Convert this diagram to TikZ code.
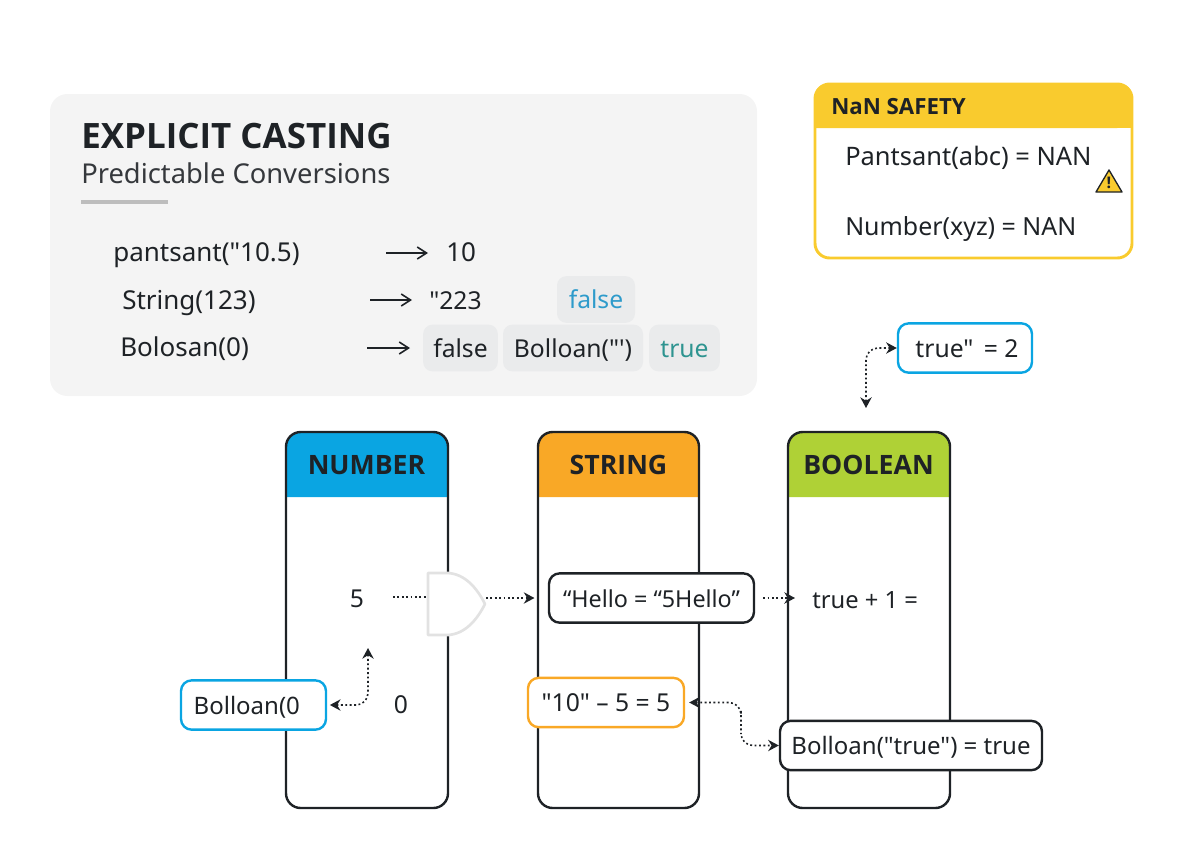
\documentclass[tikz,border=0pt]{standalone}
\usepackage{fontspec}
\newfontfamily\notofont{Noto Sans}
\newfontfamily\headfont{Open Sans}
\usetikzlibrary{positioning,arrows.meta,calc}
\definecolor{panelgrey}{HTML}{F4F4F4}
\definecolor{pillgrey}{HTML}{EAEBEC}
\definecolor{rulegrey}{HTML}{BDBDBD}
\definecolor{gategrey}{HTML}{E2E2E2}
\definecolor{inkdark}{HTML}{1E2226}
\definecolor{numblue}{HTML}{0AA5E2}
\definecolor{strorange}{HTML}{F9A826}
\definecolor{boolgreen}{HTML}{AFD136}
\definecolor{nanyellow}{HTML}{F9CB2E}
\definecolor{falseblue}{HTML}{2E9BCB}
\definecolor{trueteal}{HTML}{2E9490}
\tikzset{
  txt/.style={inner sep=0pt,text=inkdark,font=\notofont\fontsize{18.5}{22}\selectfont},
  rowtxt/.style={txt,anchor=base west,font=\notofont\fontsize{19.5}{22}\selectfont},
  pill/.style={txt,fill=pillgrey,rounded corners=7pt,minimum height=35pt,text height=14pt,text depth=0pt},
  tagbox/.style={txt,draw=inkdark,fill=white,line width=1.8pt,rounded corners=8pt,minimum height=37pt,text height=14pt,text depth=0pt},
  colbox/.style={draw=inkdark,line width=1.8pt,rounded corners=11pt,minimum width=121.5pt,minimum height=282pt,inner sep=0pt},
  colhead/.style={inner sep=0pt,text=inkdark,font=\headfont\fontsize{20}{24}\bfseries\selectfont},
  sipka/.style={-{Straight Barb[length=7pt,width=9pt]},line width=1.2pt,draw=inkdark},
  tecky/.style={dash pattern=on 1.4pt off 1.9pt,line width=1.2pt,draw=inkdark},
  tip/.style={{Stealth[length=8pt,width=8.5pt]}-{Stealth[length=8pt,width=8.5pt]},tecky,rounded corners=9pt},
  onetip/.style={-{Stealth[length=8pt,width=8.5pt]},tecky},
}
\begin{document}
\begin{tikzpicture}[x=0.75pt,y=-0.75pt]
  \useasboundingbox (0,0) rectangle (1184,864);
  % top left panel
  \fill[panelgrey,rounded corners=13pt] (50,94) rectangle (757,396);
  \node[inner sep=0pt,anchor=base west,text=inkdark,font=\headfont\fontsize{26.2}{30}\bfseries\selectfont] (title) at (81,148) {EXPLICIT CASTING};
  \node[inner sep=0pt,anchor=base west,text=inkdark!90,font=\notofont\fontsize{20.5}{24}\selectfont] (subtitle) at (81,183) {Predictable Conversions};
  \fill[rulegrey] (81,200) rectangle (168,204);
  \node[rowtxt] (rowa) at (113,261) {pantsant("10.5)};
  \node[rowtxt] (rowb) at (122,309) {String(123)};
  \node[rowtxt] (rowc) at (120,356) {Bolosan(0)};
  \node[rowtxt] (resa) at (446,261) {10};
  \node[rowtxt,font=\notofont\fontsize{18.5}{22}\selectfont] (resb) at (429,309) {"223};
  \node[pill,text=falseblue,minimum width=58.5pt] (pfalse) at (596,299.5) {false};
  \node[pill,minimum width=56pt] (pfalseb) at (460.5,348) {false};
  \node[pill,minimum width=105pt] (pbool) at (573,348) {Bolloan("\textquotesingle)};
  \node[pill,text=trueteal,minimum width=53pt] (ptrue) at (684.5,348) {true};
  \coordinate (aa) at (386,253); \coordinate (ab) at (428,253);
  \coordinate (ba) at (370,300); \coordinate (bb) at (412,300);
  \coordinate (ca) at (367,348); \coordinate (cb) at (410,348);
  \draw[sipka] (aa)--(ab);
  \draw[sipka] (ba)--(bb);
  \draw[sipka] (ca)--(cb);
  % NaN box
  \fill[nanyellow,rounded corners=11pt] (815,128) -- (815,84) -- (1132,84) -- (1132,128) [sharp corners] -- cycle;
  \fill[nanyellow] (815,115) rectangle (1132,128);
  \draw[nanyellow,line width=2.2pt,rounded corners=11pt] (815,84) rectangle (1132,258);
  \node[inner sep=0pt,anchor=base west,text=inkdark,font=\headfont\fontsize{16.7}{20}\bfseries\selectfont] (nantitle) at (831,114) {NaN SAFETY};
  \node[rowtxt,font=\notofont\fontsize{19.1}{22}\selectfont] (nana) at (845,165) {Pantsant(abc) = NAN};
  \node[rowtxt,font=\notofont\fontsize{18.7}{22}\selectfont] (nanb) at (845,235) {Number(xyz) = NAN};
  \draw[inkdark,fill=nanyellow,line width=1pt,line join=round] (1109,170) -- (1122,192) -- (1096,192) -- cycle;
  \node[inner sep=0pt,text=inkdark,font=\headfont\fontsize{12}{12}\bfseries\selectfont] (warn) at (1109,183) {!};
  % columns
  \fill[numblue,rounded corners=11pt] (286,432) -- (448,432) [sharp corners] -- (448,497) -- (286,497) [rounded corners=11pt] -- cycle;
  \fill[strorange,rounded corners=11pt] (538,432) -- (699,432) [sharp corners] -- (699,497) -- (538,497) [rounded corners=11pt] -- cycle;
  \fill[boolgreen,rounded corners=11pt] (788,432) -- (950,432) [sharp corners] -- (950,497) -- (788,497) [rounded corners=11pt] -- cycle;
  \node[colbox] (number) at (367,620) {};
  \node[colbox,minimum width=120.75pt] (string) at (618.5,620) {};
  \node[colbox] (boolean) at (869,620) {};
  \node[colhead] at (366.5,465) {NUMBER};
  \node[colhead] at (618.5,465) {STRING};
  \node[colhead] at (868.5,465) {BOOLEAN};
  % gate
  \draw[gategrey,fill=white,line width=2pt,line join=round] (428,573) -- (448,573) .. controls (465,574) and (477,588) .. (485,604) .. controls (477,620) and (465,634) .. (448,635) -- (428,635) -- cycle;
  \coordinate (dotstart) at (393,597);
  \coordinate (gatein) at (428,597);
  \coordinate (gateout) at (486,598);
  % values and tags
  \node[txt] (five) at (357,599) {5};
  \node[txt] (zero) at (401,705) {0};
  \node[txt,anchor=west,font=\notofont\fontsize{17.8}{22}\selectfont] (trueplus) at (812,600) {true + 1 =};
  \node[tagbox,draw=numblue,minimum width=108.75pt,font=\notofont\fontsize{18}{22}\selectfont] (bolzero) at (253.5,705) {Bolloan(0\hspace{10pt}\mbox{}};
  \node[tagbox,font=\notofont\fontsize{17.5}{22}\selectfont,minimum width=153.75pt] (hello) at (651.5,598) {“Hello = “5Hello”};
  \node[tagbox,draw=strorange,minimum width=117pt] (ten) at (606,702.5) {"10" – 5 = 5};
  \node[tagbox,font=\notofont\fontsize{18}{22}\selectfont,minimum width=196.5pt] (boltrue) at (911,745.5) {Bolloan("true") = true};
  \node[tagbox,draw=numblue,minimum width=100.5pt] (truetwo) at (965,348) {\hspace{3pt}true"\hspace{3pt} = 2};
  % connectors
  \coordinate (fivetip) at (368,648);
  \coordinate (booltip) at (795,598);
  \coordinate (downtip) at (866,408);
  \coordinate (elbow) at (741,722);
  \draw[tecky] (dotstart)--(gatein);
  \draw[onetip,shorten >=10pt] (gateout)--(hello.west);
  \draw[onetip,shorten <=6pt] (hello.east)--(booltip);
  \draw[tip,shorten <=2pt] (bolzero.east) -| (fivetip);
  \draw[tip,shorten <=3pt] (ten.east) -| (elbow) |- (boltrue.west);
  \draw[tip] (truetwo.west) -| (downtip);
\end{tikzpicture}
\end{document}
